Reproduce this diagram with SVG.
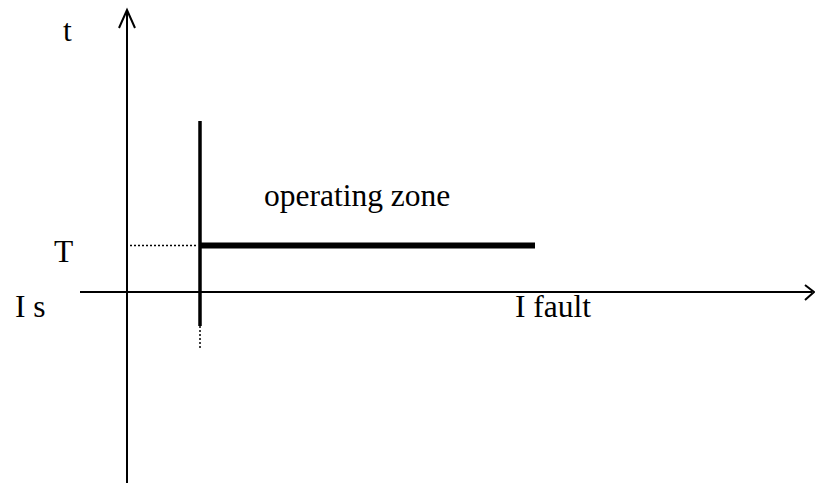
<svg xmlns="http://www.w3.org/2000/svg" width="815" height="483" viewBox="0 0 815 483">
<style>
text{font-family:"Liberation Serif","Times New Roman",serif;font-size:31.5px;fill:#000}
.ax{stroke:#000;stroke-width:2;fill:none}
.dot{stroke:#000;stroke-width:1.5;stroke-dasharray:2 2;fill:none}
</style>
<rect width="815" height="483" fill="#fff"/>
<g id="connectors">
<line class="ax" x1="127" y1="483" x2="127" y2="11"/>
<polyline class="ax" points="119,28 127,10 135,28"/>
<line class="ax" x1="80" y1="292" x2="812" y2="292"/>
<polyline class="ax" points="805,285 814,292 805,300"/>
<line class="dot" x1="130" y1="245.5" x2="198" y2="245.5"/>
<line class="dot" x1="200" y1="326" x2="200" y2="349"/>
</g>
<g id="threshold">
<line x1="200" y1="121" x2="200" y2="326" stroke="#000" stroke-width="3.5"/>
<line x1="200" y1="245.5" x2="535" y2="245.5" stroke="#000" stroke-width="6"/>
</g>
<g id="labels">
<text x="63" y="41">t</text>
<text x="54" y="262">T</text>
<text x="15" y="317">I s</text>
<text x="515" y="317">I fault</text>
<text x="264" y="206">operating zone</text>
</g>
</svg>
